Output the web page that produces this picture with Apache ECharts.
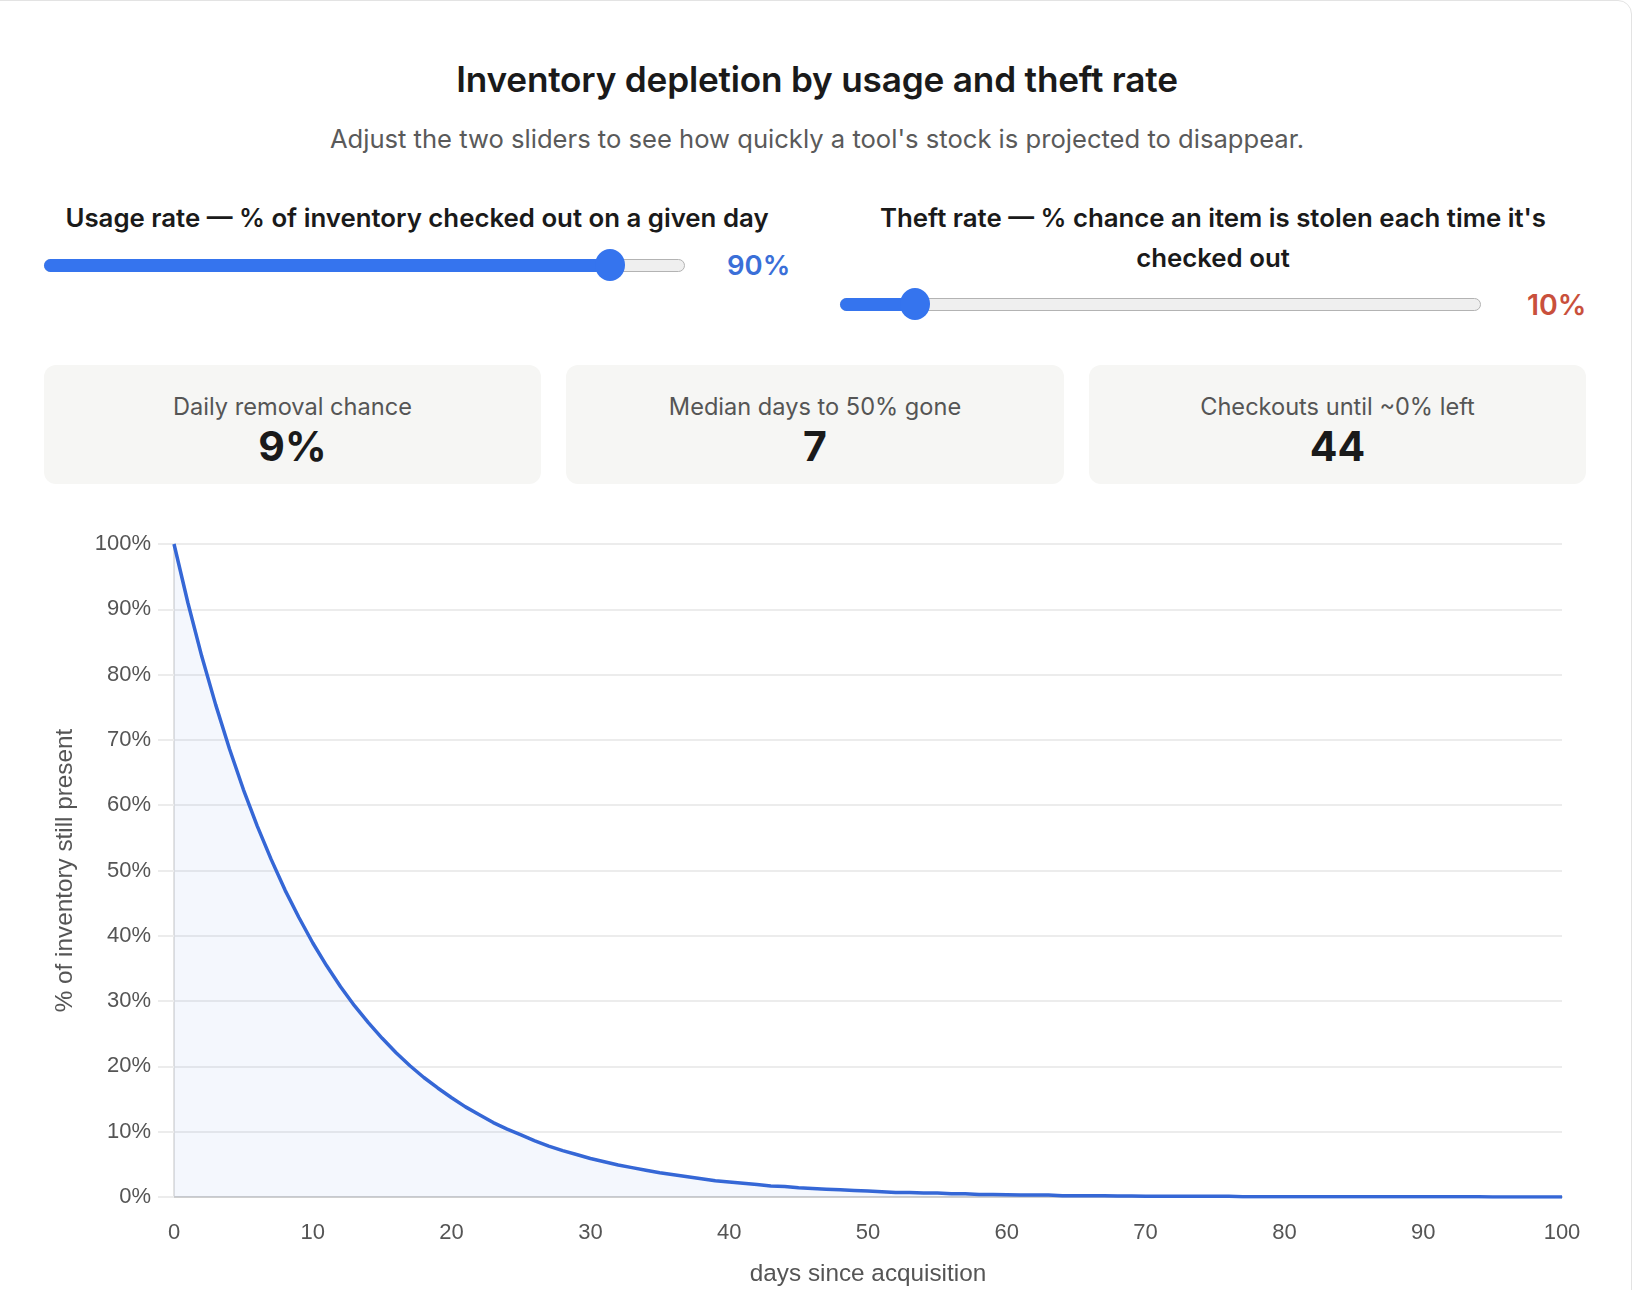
<!DOCTYPE html>
<html>
<head>
<meta charset="utf-8">
<script src="https://cdn.jsdelivr.net/npm/echarts@6/dist/echarts.min.js"></script>
<style>
  html, body { margin:0; padding:0; background:#fff; width:1635px; height:1290px; overflow:hidden; }
  body { position:relative; font-family: Inter, "Noto Sans", sans-serif; color:#1a1a1a; }
  .card { position:absolute; left:-20px; top:0; width:1652px; height:1400px; border:1px solid #e3e3e3; border-radius:14px; box-sizing:border-box; }
  .abs { position:absolute; white-space:nowrap; }
  .ctr { transform:translate(-50%,-50%); text-align:center; }
  .vmid { transform:translateY(-50%); }
  #title { left:817px; top:79px; font-size:35.2px; font-weight:600; color:#1a1a1a; letter-spacing:-0.2px; }
  #subtitle { left:817px; top:138px; font-size:25.6px; color:#5a5a5a; }
  .lbl { font-size:25.8px; font-weight:600; color:#1a1a1a; line-height:40px; }
  .track { position:absolute; height:13px; border:1.5px solid #b3b3b3; background:#efefef; border-radius:8px; box-sizing:border-box; }
  .fill { position:absolute; height:13px; background:#3574ee; border-radius:8px 0 0 8px; }
  .thumb { position:absolute; width:30px; height:32px; border-radius:50%; background:#3574ee; transform:translate(-50%,-50%); }
  .val { font-size:27.5px; font-weight:600; }
  .stat { position:absolute; top:365px; height:119px; background:#f6f6f4; border-radius:12px; }
  .stat .k { position:absolute; left:0; right:0; top:41px; transform:translateY(-50%); text-align:center; font-size:23.6px; color:#555; }
  .stat .v { position:absolute; left:0; right:0; top:81px; transform:translateY(-50%); text-align:center; font-size:41px; font-weight:700; color:#1a1a1a; }
  #chart { position:absolute; left:0; top:500px; width:1635px; height:790px; }
</style>
</head>
<body>
<div class="card"></div>
<div id="title" class="abs ctr">Inventory depletion by usage and theft rate</div>
<div id="subtitle" class="abs ctr">Adjust the two sliders to see how quickly a tool's stock is projected to disappear.</div>

<div class="abs ctr lbl" style="left:417px; top:218px;">Usage rate — % of inventory checked out on a given day</div>
<div class="track" style="left:44px; top:258.5px; width:641px;"></div>
<div class="fill" style="left:44px; top:258.5px; width:566px;"></div>
<div class="thumb" style="left:610px; top:265px;"></div>
<div class="abs vmid val" style="left:727px; top:265px; color:#3a6fd8;">90%</div>

<div class="abs lbl" style="left:1213px; top:198px; transform:translateX(-50%); text-align:center;">Theft rate — % chance an item is stolen each time it's<br>checked out</div>
<div class="track" style="left:840px; top:297.5px; width:641px;"></div>
<div class="fill" style="left:840px; top:297.5px; width:75px;"></div>
<div class="thumb" style="left:915px; top:304px;"></div>
<div class="abs vmid val" style="left:1527px; top:304px; color:#c9503c; font-size:28.5px;">10%</div>

<div class="stat" style="left:44px; width:497px;"><div class="k">Daily removal chance</div><div class="v">9%</div></div>
<div class="stat" style="left:566px; width:498px;"><div class="k">Median days to 50% gone</div><div class="v">7</div></div>
<div class="stat" style="left:1089px; width:497px;"><div class="k">Checkouts until ~0% left</div><div class="v">44</div></div>

<div id="chart"></div>
<script>
// Days since acquisition (x) and % of inventory still present (y)
const days = [0,1,2,3,4,5,6,7,8,9,10,11,12,13,14,15,16,17,18,19,20,21,22,23,24,25,26,27,28,29,30,
  31,32,33,34,35,36,37,38,39,40,41,42,43,44,45,46,47,48,49,50,51,52,53,54,55,56,57,58,59,60,
  61,62,63,64,65,66,67,68,69,70,71,72,73,74,75,76,77,78,79,80,81,82,83,84,85,86,87,88,89,90,
  91,92,93,94,95,96,97,98,99,100];
const remaining = [100,91.0,82.8,75.4,68.6,62.4,56.8,51.7,47.0,42.8,38.9,35.4,32.2,29.3,26.7,24.3,22.1,20.1,18.3,16.7,15.2,
  13.8,12.6,11.4,10.4,9.5,8.6,7.8,7.1,6.5,5.9,5.4,4.9,4.5,4.1,3.7,3.4,3.1,2.8,2.5,2.3,
  2.1,1.9,1.7,1.6,1.4,1.3,1.2,1.1,1.0,0.9,0.8,0.7,0.7,0.6,0.6,0.5,0.5,0.4,0.4,0.35,
  0.3,0.3,0.3,0.2,0.2,0.2,0.2,0.15,0.15,0.1,0.1,0.1,0.1,0.1,0.1,0.1,0.05,0.05,0.05,0.05,
  0.05,0.05,0.05,0.05,0.03,0.03,0.03,0.03,0.03,0.02,0.02,0.02,0.02,0.02,0.01,0.01,0.01,0.01,0.01,0.01];
const xTicks = {min:0, max:100, step:10};
const yTicks = {min:0, max:100, step:10};

const chart = echarts.init(document.getElementById('chart'), null, {renderer:'canvas'});
const labelFont = '"Liberation Sans", Arial, sans-serif';
chart.setOption({
  animation:false,
  grid:{left:174, right:73, top:44, bottom:93, containLabel:false, outerBoundsMode:'none'},
  xAxis:{
    type:'value', min:xTicks.min, max:xTicks.max, interval:xTicks.step,
    name:'days since acquisition', nameLocation:'middle', nameGap:65,
    nameTextStyle:{fontSize:24.3, color:'#555', fontFamily:labelFont},
    axisLine:{show:true, lineStyle:{color:'#cfcfcf', width:2}},
    axisTick:{show:false},
    splitLine:{show:false},
    axisLabel:{fontSize:22, color:'#555', margin:25, fontFamily:labelFont}
  },
  yAxis:{
    type:'value', min:yTicks.min, max:yTicks.max, interval:yTicks.step,
    name:'% of inventory still present', nameLocation:'middle', nameGap:97,
    nameTextStyle:{fontSize:24.3, color:'#555', fontFamily:labelFont},
    axisLine:{show:true, lineStyle:{color:'#e2e2e2', width:2}},
    axisTick:{show:true, length:16, lineStyle:{color:'#ececec', width:2}},
    splitLine:{show:true, lineStyle:{color:'#ececec', width:2}},
    axisLabel:{fontSize:22, color:'#555', margin:23, fontFamily:labelFont, formatter:'{value}%'}
  },
  series:[{
    type:'line',
    data: days.map((d,i)=>[d, remaining[i]]),
    showSymbol:false,
    lineStyle:{color:'#3567d6', width:3.5},
    areaStyle:{color:'rgba(53,103,214,0.08)'},
    z:3
  }]
});
</script>
</body>
</html>
